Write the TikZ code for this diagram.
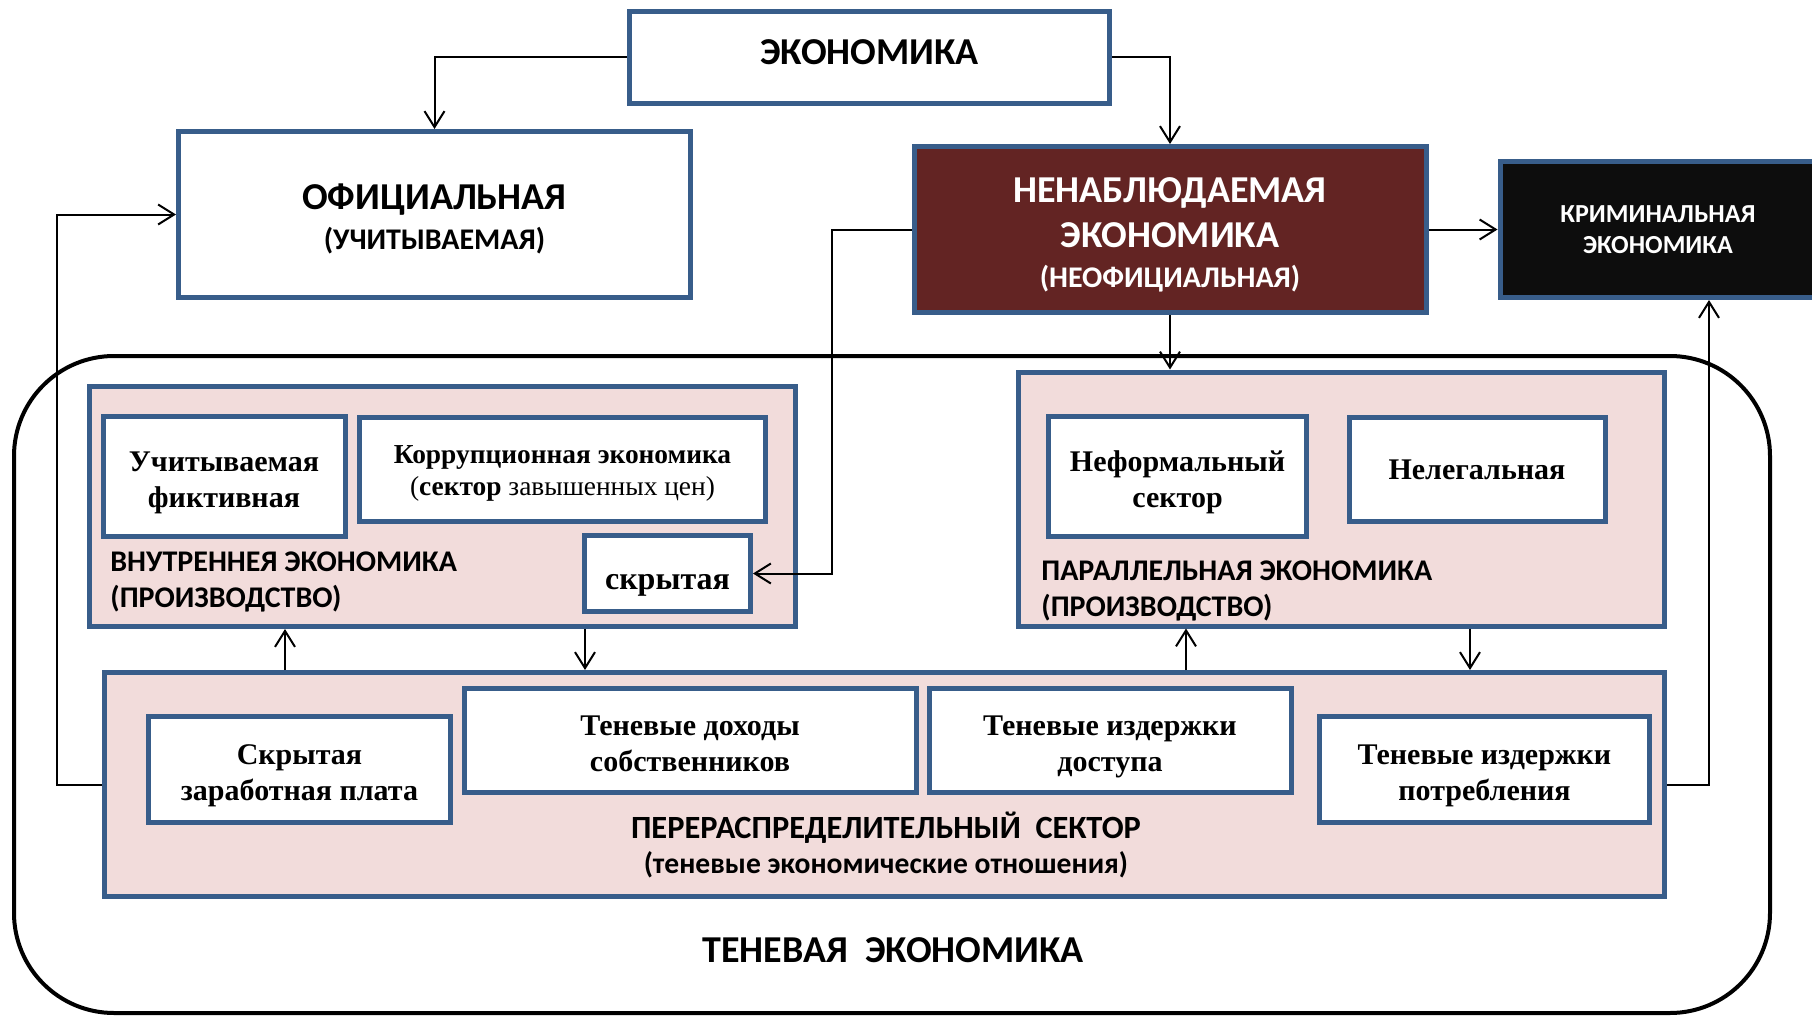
\documentclass[tikz,border=0pt]{standalone}
\usepackage{fontspec}
\setmainfont{Liberation Serif}
\newfontfamily\calfont{Carlito}
\usetikzlibrary{calc,arrows.meta}
\definecolor{rim}{RGB}{56,93,138}
\definecolor{rose}{RGB}{242,220,219}
\definecolor{wine}{RGB}{99,36,35}
\definecolor{coal}{RGB}{13,13,13}
% text block pushed a bit lower inside its box
\newcommand{\low}[2]{\raisebox{-#1}[\height][\depth]{\begin{tabular}{@{}c@{}}#2\end{tabular}}}

\begin{document}
\begin{tikzpicture}[x=0.5pt, y=-0.5pt,
    box/.style={draw=rim, line width=2.5pt, fill=white, inner sep=0pt, align=center},
    zone/.style={box, fill=rose},
    capsbig/.style={font=\calfont\bfseries\fontsize{19}{22.5}\selectfont},
    serif/.style={font=\bfseries\fontsize{15}{18}\selectfont},
    label/.style={inner sep=0pt, align=left, font=\calfont\bfseries\fontsize{15}{18}\selectfont},
    link/.style={-{Straight Barb[length=8pt,width=10pt]}, line width=1pt, black},
  ]
  \useasboundingbox (0,0) rectangle (1812,1017);
  \clip (0,0) rectangle (1812,1017);

  % top row
  \node[box, minimum width=240pt, minimum height=46pt, capsbig, text depth=4.6pt] (econ) at (869.5,57) {ЭКОНОМИКА};
  \node[box, minimum width=256pt, minimum height=83pt, capsbig] (ofic) at (434.5,214.5)
    {\low{3pt}{ОФИЦИАЛЬНАЯ\\[-2.5pt]{\fontsize{15}{18}\selectfont (УЧИТЫВАЕМАЯ)}}};
  \node[box, fill=wine, text=white, minimum width=256pt, minimum height=83pt, capsbig] (nenab) at (1170,229.5)
    {\low{3pt}{НЕНАБЛЮДАЕМАЯ\\ЭКОНОМИКА\\[-2.5pt]{\fontsize{15}{18}\selectfont (НЕОФИЦИАЛЬНАЯ)}}};
  \node[box, fill=coal, text=white, minimum width=158pt, minimum height=68pt,
        font=\calfont\bfseries\fontsize{13}{15.5}\selectfont] (krim) at (1658,229.5)
    {КРИМИНАЛЬНАЯ\\ЭКОНОМИКА};

  % shadow economy frame
  \draw[line width=2pt, rounded corners=50pt] (14,356) rectangle (1770,1013);
  \node[font=\calfont\bfseries\fontsize{19}{22}\selectfont] (ten) at (893,950) {ТЕНЕВАЯ~~ЭКОНОМИКА};

  % internal economy
  \node[zone, minimum width=353pt, minimum height=120pt] (vn) at (442.5,506.5) {};
  \node[box, minimum width=121pt, minimum height=60pt, serif] (uchf) at (224,476.5) {\low{3pt}{Учитываемая\\фиктивная}};
  \node[box, minimum width=203pt, minimum height=52pt, font=\fontsize{13.7}{16}\selectfont] (korr) at (562.5,469)
    {\low{2.2pt}{\bfseries Коррупционная экономика\\(\textbf{сектор} завышенных цен)}};
  \node[box, minimum width=83pt, minimum height=38pt, font=\bfseries\fontsize{16}{18}\selectfont] (skr) at (667.5,573.5)
    {\low{4.5pt}{скрытая}};
  \node[label, anchor=west] (vnlab) at (110,582) {ВНУТРЕННЕЯ ЭКОНОМИКА\\(ПРОИЗВОДСТВО)};

  % parallel economy
  \node[zone, minimum width=323pt, minimum height=127pt] (par) at (1341.5,499) {};
  \node[box, minimum width=129pt, minimum height=60pt, serif] (nef) at (1177.5,476.5) {\low{3pt}{Неформальный\\сектор}};
  \node[box, minimum width=128pt, minimum height=52pt, serif] (neleg) at (1477,469) {\low{1.5pt}{Нелегальная}};
  \node[label, anchor=west] (parlab) at (1041,591) {ПАРАЛЛЕЛЬНАЯ ЭКОНОМИКА\\(ПРОИЗВОДСТВО)};

  % redistribution sector
  \node[zone, minimum width=780pt, minimum height=112pt] (pere) at (884.5,784.5) {};
  \node[box, minimum width=151pt, minimum height=53pt, serif] (zp) at (299.5,769) {\low{3pt}{Скрытая\\заработная плата}};
  \node[box, minimum width=226pt, minimum height=52pt, serif] (doh) at (690,740) {\low{3pt}{Теневые доходы\\собственников}};
  \node[box, minimum width=181pt, minimum height=52pt, serif] (dost) at (1110,740) {\low{3pt}{Теневые издержки\\доступа}};
  \node[box, minimum width=165pt, minimum height=53pt, serif] (potr) at (1484.5,769) {\low{3pt}{Теневые издержки\\потребления}};
  \node[align=center, font=\calfont\bfseries\fontsize{16.2}{17.5}\selectfont] (perelab) at (886,845)
    {ПЕРЕРАСПРЕДЕЛИТЕЛЬНЫЙ~~СЕКТОР\\{\fontsize{14.8}{17.5}\selectfont (теневые экономические отношения)}};

  % turning points
  \coordinate (bendA) at (832,0);
  \coordinate (bendL) at (57,0);
  \coordinate (bendR) at (1709,0);
  \coordinate (colA) at (285,0);
  \coordinate (colB) at (585,0);
  \coordinate (colC) at (1186,0);
  \coordinate (colD) at (1470,0);

  % connectors
  \draw[link] (econ.west) -| (ofic.north);
  \draw[link] (econ.east) -| (nenab.north);
  \draw[link] (nenab.east) -- (krim.west);
  \draw[link] (nenab.west) -| (bendA |- skr.east) -- (skr.east);
  \draw[link] (nenab.south) -- (nenab.south |- par.north);
  \draw[link] (pere.west) -| (bendL |- ofic.west) -- (ofic.west);
  \draw[link] (pere.east) -| (bendR |- krim.south);
  \draw[link] (colA |- pere.north) -- (colA |- vn.south);
  \draw[link] (colB |- vn.south) -- (colB |- pere.north);
  \draw[link] (colC |- pere.north) -- (colC |- par.south);
  \draw[link] (colD |- par.south) -- (colD |- pere.north);
\end{tikzpicture}
\end{document}
